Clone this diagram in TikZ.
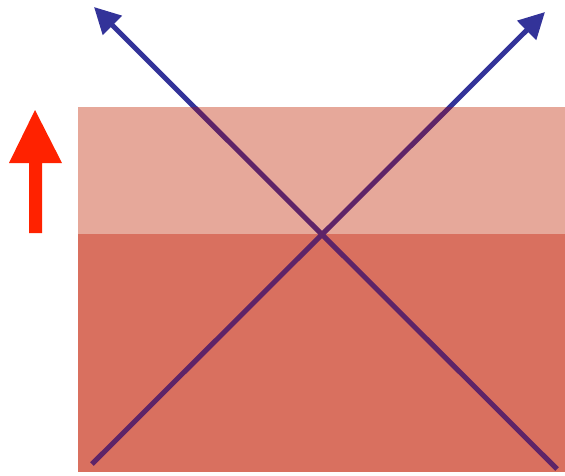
\documentclass[tikz,border=0pt]{standalone}
\usetikzlibrary{arrows.meta}
\definecolor{lightpart}{HTML}{E6A89A}
\definecolor{darkpart}{HTML}{D9705F}
\definecolor{upred}{HTML}{FF2200}
\definecolor{rayblue}{HTML}{333399}
\definecolor{raypurple}{HTML}{5E2468}
\begin{document}
\begin{tikzpicture}[x=1pt,y=-1pt,
  ray/.style={line width=5pt, color=rayblue, -{Triangle[length=26pt,width=26pt]}},
  rayin/.style={line width=5pt, color=raypurple}]
\useasboundingbox (0,0) rectangle (565,475);
% coordinates
\coordinate (a1) at (92,464);
\coordinate (b1) at (545,12);
\coordinate (a2) at (557,469);
\coordinate (b2) at (94,7);
% rays (blue with arrowheads)
\draw[ray] (a1) -- (b1);
\draw[ray] (a2) -- (b2);
% block
\fill[lightpart] (78,107) rectangle (565,234);
\fill[darkpart] (78,234) rectangle (565,472);
% rays inside the block
\begin{scope}
\clip (78,107) rectangle (565,472);
\draw[rayin] (a1) -- (b1);
\draw[rayin] (a2) -- (b2);
\end{scope}
% red up arrow
\fill[upred] (29,233) -- (42,233) -- (42,163) -- (62,163) -- (35,110) -- (9,163) -- (29,163) -- cycle;
\end{tikzpicture}
\end{document}
